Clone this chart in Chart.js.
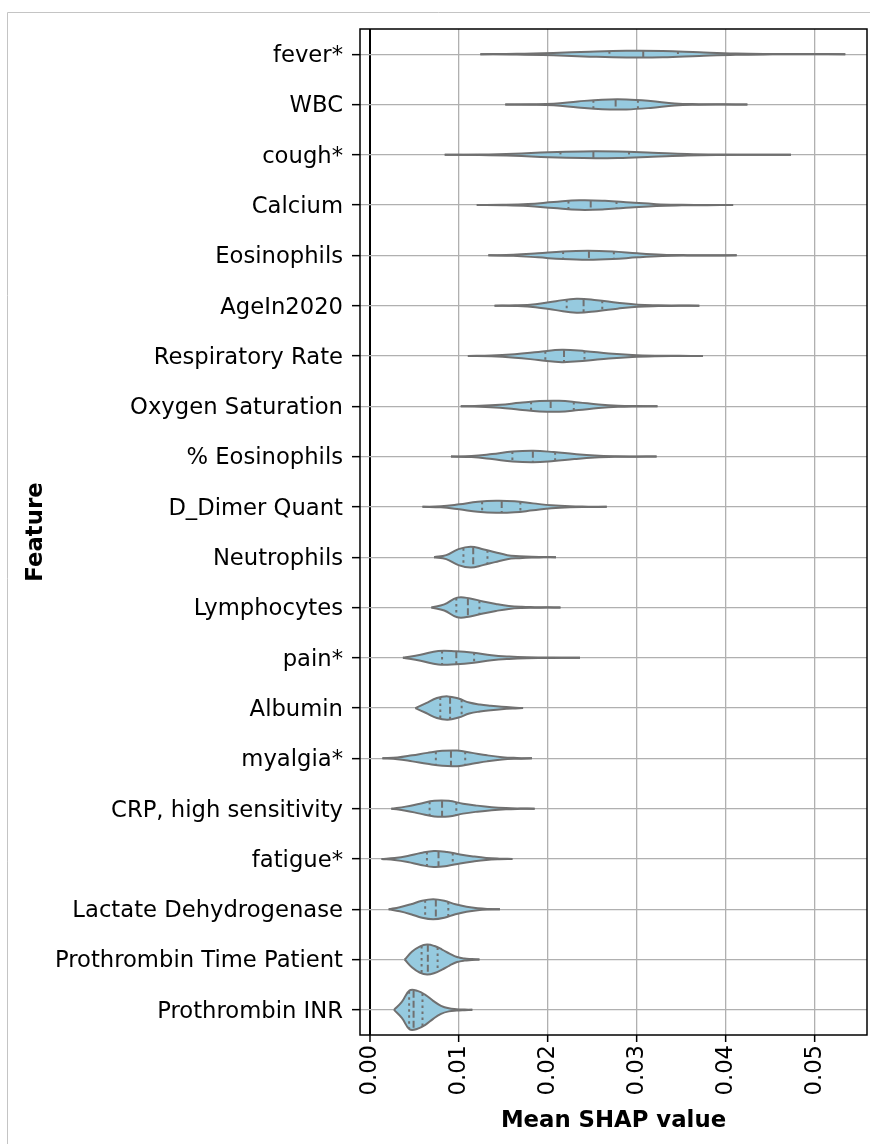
<!DOCTYPE html>
<html>
<head>
<meta charset="utf-8">
<script src="https://cdn.jsdelivr.net/npm/chart.js@4.4.1/dist/chart.umd.min.js"></script>
<style>
  html, body { margin: 0; padding: 0; background: #fff; }
  canvas { display: block; }
</style>
</head>
<body>
<canvas id="chart" width="870" height="1144"></canvas>
<script>
// Features, top to bottom
const features = [
  'fever*', 'WBC', 'cough*', 'Calcium', 'Eosinophils', 'AgeIn2020',
  'Respiratory Rate', 'Oxygen Saturation', '% Eosinophils', 'D_Dimer Quant',
  'Neutrophils', 'Lymphocytes', 'pain*', 'Albumin', 'myalgia*',
  'CRP, high sensitivity', 'fatigue*', 'Lactate Dehydrogenase',
  'Prothrombin Time Patient', 'Prothrombin INR'
];

// Extent of each violin (left and right tail ends)
const tailLow  = [0.0124, 0.0152, 0.0084, 0.0120, 0.0133, 0.0140, 0.0110, 0.0102, 0.0091, 0.0059,
                  0.0072, 0.0069, 0.0037, 0.0051, 0.0014, 0.0024, 0.0013, 0.0021, 0.0039, 0.0027];
const tailHigh = [0.0534, 0.0424, 0.0473, 0.0408, 0.0412, 0.0370, 0.0374, 0.0323, 0.0322, 0.0266,
                  0.0209, 0.0214, 0.0236, 0.0172, 0.0182, 0.0185, 0.0160, 0.0146, 0.0123, 0.0115];

// Quartiles
const q1     = [0.0269, 0.0251, 0.0214, 0.0223, 0.0217, 0.0221, 0.0197, 0.0181, 0.0160, 0.0126,
                0.0105, 0.0097, 0.0081, 0.0079, 0.0074, 0.0067, 0.0064, 0.0062, 0.0058, 0.0044];
const median = [0.0307, 0.0276, 0.0251, 0.0248, 0.0246, 0.0240, 0.0218, 0.0203, 0.0183, 0.0148,
                0.0116, 0.0110, 0.0097, 0.0090, 0.0091, 0.0081, 0.0077, 0.0074, 0.0065, 0.0049];
const q3     = [0.0346, 0.0301, 0.0291, 0.0277, 0.0274, 0.0261, 0.0241, 0.0229, 0.0208, 0.0169,
                0.0132, 0.0123, 0.0117, 0.0103, 0.0107, 0.0097, 0.0093, 0.0088, 0.0076, 0.0059];

// Density half-width (in row units) at 11 evenly spaced points from tailLow to tailHigh
const halfWidth = [
  [0, .006, .024, .050, .067, .064, .036, .012, .004, .002, 0],
  [0, .004, .016, .060, .095, .099, .069, .020, .006, .002, 0],
  [0, .004, .020, .052, .067, .064, .040, .014, .004, .002, 0],
  [0, .004, .020, .060, .095, .085, .050, .018, .006, .002, 0],
  [0, .010, .040, .075, .089, .075, .040, .014, .004, .002, 0],
  [0, .006, .030, .089, .139, .109, .060, .020, .008, .004, 0],
  [0, .008, .036, .079, .123, .095, .050, .020, .006, .002, 0],
  [0, .008, .030, .069, .103, .109, .075, .036, .012, .004, 0],
  [0, .010, .050, .099, .115, .089, .050, .020, .006, .002, 0],
  [0, .010, .050, .099, .119, .109, .069, .030, .010, .004, 0],
  [0, .040, .159, .208, .159, .099, .040, .020, .008, .004, 0],
  [0, .060, .195, .179, .119, .069, .030, .012, .006, .002, 0],
  [0, .060, .135, .129, .099, .050, .024, .010, .006, .002, 0],
  [0, .099, .199, .232, .189, .109, .069, .044, .024, .010, 0],
  [0, .016, .060, .109, .149, .155, .109, .060, .024, .008, 0],
  [0, .040, .099, .155, .155, .099, .060, .030, .012, .004, 0],
  [0, .020, .060, .119, .159, .139, .089, .050, .020, .006, 0],
  [0, .040, .099, .169, .199, .169, .099, .050, .020, .006, 0],
  [0, .159, .258, .298, .268, .199, .119, .050, .020, .010, 0],
  [0, .159, .387, .377, .298, .179, .079, .030, .014, .006, 0]
];

// X axis ticks
const xTicks = [0, 0.01, 0.02, 0.03, 0.04, 0.05];
const xTickLabels = ['0.00', '0.01', '0.02', '0.03', '0.04', '0.05'];

const FONT = 'DejaVu Sans';
const VIOLIN_FILL = 'rgb(150, 202, 223)';
const VIOLIN_EDGE = 'rgb(112, 112, 112)';

function samplePositions(i) {
  const n = halfWidth[i].length - 1;
  return halfWidth[i].map((_, k) => tailLow[i] + (tailHigh[i] - tailLow[i]) * k / n);
}

function halfWidthAt(i, v) {
  const d = halfWidth[i];
  const n = d.length - 1;
  const t = (v - tailLow[i]) / (tailHigh[i] - tailLow[i]) * n;
  const k = Math.min(n - 1, Math.max(0, Math.floor(t)));
  const f = t - k;
  return d[k] + (d[k + 1] - d[k]) * f;
}

const datasets = [];
features.forEach((name, i) => {
  const xs = samplePositions(i);
  const common = {
    type: 'scatter', showLine: true, pointRadius: 0, pointHoverRadius: 0,
    borderColor: VIOLIN_EDGE, borderWidth: 2, tension: 0.4, order: 1
  };
  // upper outline
  datasets.push(Object.assign({}, common, {
    label: name + ' upper',
    data: xs.map((x, k) => ({ x, y: i - halfWidth[i][k] })),
    fill: false
  }));
  // lower outline, filled up to the upper one
  datasets.push(Object.assign({}, common, {
    label: name + ' lower',
    data: xs.map((x, k) => ({ x, y: i + halfWidth[i][k] })),
    fill: '-1',
    backgroundColor: VIOLIN_FILL
  }));
  // quartile lines: median dashed, outer quartiles dotted
  [[q1[i], [2.5, 3.5]], [median[i], [7, 3]], [q3[i], [2.5, 3.5]]].forEach(([v, dash]) => {
    const w = halfWidthAt(i, v);
    datasets.push({
      type: 'scatter', showLine: true, pointRadius: 0, pointHoverRadius: 0,
      borderColor: VIOLIN_EDGE, borderWidth: 2, borderDash: dash, order: 0,
      label: name + ' quartile',
      data: [{ x: v, y: i - w }, { x: v, y: i + w }],
      fill: false
    });
  });
});

const framePlugin = {
  id: 'frame',
  beforeDraw(chart) {
    const ctx = chart.ctx;
    ctx.save();
    ctx.fillStyle = '#fff';
    ctx.fillRect(0, 0, chart.width, chart.height);
    ctx.strokeStyle = '#c4c4c4';
    ctx.lineWidth = 1;
    ctx.beginPath();
    ctx.moveTo(7.5, chart.height);
    ctx.lineTo(7.5, 12.5);
    ctx.lineTo(chart.width, 12.5);
    ctx.stroke();
    ctx.restore();
  },
  afterDraw(chart) {
    const a = chart.chartArea;
    const ctx = chart.ctx;
    ctx.save();
    ctx.strokeStyle = '#000';
    ctx.lineWidth = 1.5;
    ctx.strokeRect(a.left, a.top, a.right - a.left, a.bottom - a.top);
    ctx.restore();
  }
};

new Chart(document.getElementById('chart'), {
  type: 'scatter',
  data: { datasets },
  plugins: [framePlugin],
  options: {
    responsive: false,
    animation: false,
    devicePixelRatio: 1,
    layout: { padding: { left: 0, top: 29, right: 3, bottom: 0 } },
    plugins: {
      legend: { display: false },
      tooltip: { enabled: false },
      filler: { drawTime: 'beforeDatasetsDraw' }
    },
    scales: {
      x: {
        type: 'linear',
        min: -0.00112,
        max: 0.05584,
        afterBuildTicks: s => { s.ticks = xTicks.map(v => ({ value: v })); },
        afterFit: s => { s.height = 109; },
        ticks: {
          callback: (v, idx) => xTickLabels[idx],
          autoSkip: false, minRotation: 90, maxRotation: 90,
          color: '#000', font: { family: FONT, size: 22.7 }, padding: 3
        },
        grid: {
          color: c => (c.tick && c.tick.value === 0 ? '#000' : '#b0b0b0'),
          lineWidth: c => (c.tick && c.tick.value === 0 ? 2 : 1.3),
          tickColor: '#000', tickLength: 7, tickWidth: 1.5
        },
        border: { display: false },
        title: {
          display: true, text: 'Mean SHAP value', color: '#000',
          font: { family: FONT, size: 22.8, weight: 'bold' },
          padding: { top: 0, bottom: 9 }
        }
      },
      y: {
        type: 'linear',
        reverse: true,
        min: -0.5,
        max: 19.5,
        afterBuildTicks: s => { s.ticks = features.map((_, i) => ({ value: i })); },
        afterFit: s => { s.width = 360; },
        ticks: {
          callback: (v, idx) => features[idx],
          autoSkip: false, labelOffset: 2,
          color: '#000', font: { family: FONT, size: 22.7 }, padding: 9
        },
        grid: {
          color: '#b0b0b0', lineWidth: 1.3,
          tickColor: '#000', tickLength: 8, tickWidth: 1.5
        },
        border: { display: false },
        title: {
          display: true, text: 'Feature', color: '#000',
          font: { family: FONT, size: 22.8, weight: 'bold' },
          padding: { top: 22, bottom: 0 }
        }
      }
    }
  }
});
</script>
</body>
</html>
